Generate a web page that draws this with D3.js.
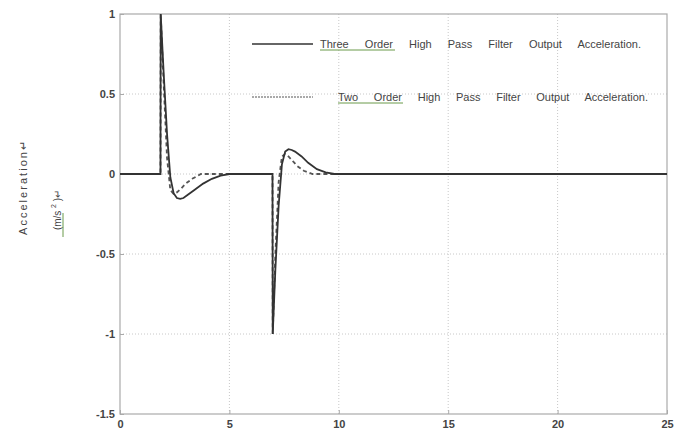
<!DOCTYPE html>
<html><head><meta charset="utf-8">
<script src="https://cdn.jsdelivr.net/npm/d3@7"></script>
<style>body{margin:0;background:#fff;}svg{display:block;font-family:"Liberation Sans",Arial,sans-serif;}</style>
</head><body>
<svg id="c" width="675" height="439"></svg>
<script>
const xTicks = [0, 5, 10, 15, 20, 25];
const yTicks = [1, 0.5, 0, -0.5, -1, -1.5];
const yTickLabels = ["1", "0.5", "0", "-0.5", "-1", "-1.5"];

const threeT = [0, 1.85, 1.86, 2.0, 2.15, 2.3, 2.45, 2.6, 2.75, 2.9, 3.1, 3.4, 3.8, 4.2, 4.6, 5.0, 6.97, 6.98, 7.1, 7.25, 7.4, 7.55, 7.7, 7.85, 8.0, 8.3, 8.6, 9.0, 9.4, 9.8, 25];
const threeV = [0, 0, 1.0, 0.62, 0.25, -0.02, -0.12, -0.15, -0.155, -0.15, -0.13, -0.1, -0.06, -0.03, -0.01, 0, 0, -1.0, -0.6, -0.2, 0.06, 0.14, 0.155, 0.15, 0.14, 0.11, 0.07, 0.03, 0.01, 0, 0];

const twoT = [0, 1.85, 1.86, 2.0, 2.15, 2.3, 2.45, 2.6, 2.8, 3.0, 3.3, 3.7, 6.97, 6.98, 7.1, 7.25, 7.4, 7.55, 7.7, 7.9, 8.1, 8.4, 8.8, 25];
const twoV = [0, 0, 1.0, 0.55, 0.1, -0.1, -0.125, -0.115, -0.09, -0.06, -0.03, 0, 0, -1.0, -0.5, -0.05, 0.11, 0.125, 0.11, 0.08, 0.05, 0.02, 0, 0];

const legendLabels = ["Three Order High Pass Filter Output Acceleration.", "Two Order High Pass Filter Output Acceleration."];

const svg = d3.select("#c");
const L = 120, R = 667, T = 14, B = 414;
const x = d3.scaleLinear().domain([0, 25]).range([L, R]);
const y = d3.scaleLinear().domain([-1.5, 1]).range([B, T]);

// grid
const g = svg.append("g");
g.selectAll(".gx").data(xTicks.slice(1, -1)).enter().append("line")
  .attr("x1", d => x(d)).attr("x2", d => x(d)).attr("y1", T).attr("y2", B)
  .attr("stroke", "#c8c8c8").attr("stroke-width", 1).attr("stroke-dasharray", "1,2");
g.selectAll(".gy").data(yTicks.slice(1, -1)).enter().append("line")
  .attr("y1", d => y(d)).attr("y2", d => y(d)).attr("x1", L).attr("x2", R)
  .attr("stroke", "#c8c8c8").attr("stroke-width", 1).attr("stroke-dasharray", "1,2");

// axes
const xAxis = d3.axisBottom(x).tickValues(xTicks).tickSize(-4).tickPadding(6).tickFormat(d3.format("d"));
const yAxis = d3.axisLeft(y).tickValues(yTicks).tickSize(-4).tickPadding(5).tickFormat((d, i) => yTickLabels[i]);
const xa = svg.append("g").attr("transform", `translate(0,${B})`).call(xAxis);
const ya = svg.append("g").attr("transform", `translate(${L},0)`).call(yAxis);
[xa, ya].forEach(a => {
  a.select(".domain").remove();
  a.selectAll("line").attr("stroke", "#aaa");
  a.selectAll("text").attr("fill", "#444").style("font-size", "11px").style("font-weight", "bold");
});
// frame
svg.append("rect").attr("x", L).attr("y", T).attr("width", R - L).attr("height", B - T)
  .attr("fill", "none").attr("stroke", "#aaa").attr("stroke-width", 1.2);

// lines
const line = d3.line().x(d => x(d[0])).y(d => y(d[1]));
const two = twoT.map((t, i) => [t, twoV[i]]);
const three = threeT.map((t, i) => [t, threeV[i]]);
svg.append("path").datum(two).attr("d", line).attr("fill", "none")
  .attr("stroke", "#555").attr("stroke-width", 1.8).attr("stroke-dasharray", "4,3");
svg.append("path").datum(three).attr("d", line).attr("fill", "none")
  .attr("stroke", "#333").attr("stroke-width", 1.8);

// legend
svg.append("line").attr("x1", 252).attr("x2", 313).attr("y1", 44).attr("y2", 44)
  .attr("stroke", "#333").attr("stroke-width", 1.3);
svg.append("line").attr("x1", 252).attr("x2", 313).attr("y1", 97).attr("y2", 97)
  .attr("stroke", "#555").attr("stroke-width", 1.2).attr("stroke-dasharray", "2,1");
function fitText(t, target) {
  const words = t.text().split(" ").length - 1;
  const w = t.node().getComputedTextLength();
  t.style("word-spacing", ((target - w) / words) + "px");
}
const l1 = svg.append("text").attr("x", 320).attr("y", 48).style("font-size", "11px").attr("fill", "#444").text(legendLabels[0]);
fitText(l1, 321);
const l2 = svg.append("text").attr("x", 338).attr("y", 101).style("font-size", "11px").attr("fill", "#444").text(legendLabels[1]);
fitText(l2, 310);
// green underline (spell-check style)
svg.append("line").attr("x1", 320).attr("x2", 395).attr("y1", 50).attr("y2", 50).attr("stroke", "#6a9a4a").attr("stroke-width", 1);
svg.append("line").attr("x1", 338).attr("x2", 403).attr("y1", 103).attr("y2", 103).attr("stroke", "#6a9a4a").attr("stroke-width", 1);

// y labels
svg.append("text").attr("transform", "translate(27,188) rotate(-90)").attr("text-anchor", "middle")
  .style("font-size", "11px").attr("fill", "#444").attr("textLength", 94).attr("lengthAdjust", "spacing").text("Acceleration\u21B5");
const yl2 = svg.append("text").attr("transform", "translate(61,210) rotate(-90)").attr("text-anchor", "middle")
  .style("font-size", "10px").attr("fill", "#444");
yl2.append("tspan").text("(m/s ");
yl2.append("tspan").attr("dy", -5).style("font-size", "7px").text("2");
yl2.append("tspan").attr("dy", 5).text(" )\u21B5");
svg.append("line").attr("x1", 63).attr("x2", 63).attr("y1", 237).attr("y2", 213).attr("stroke", "#6a9a4a").attr("stroke-width", 1);
</script>
</body></html>
